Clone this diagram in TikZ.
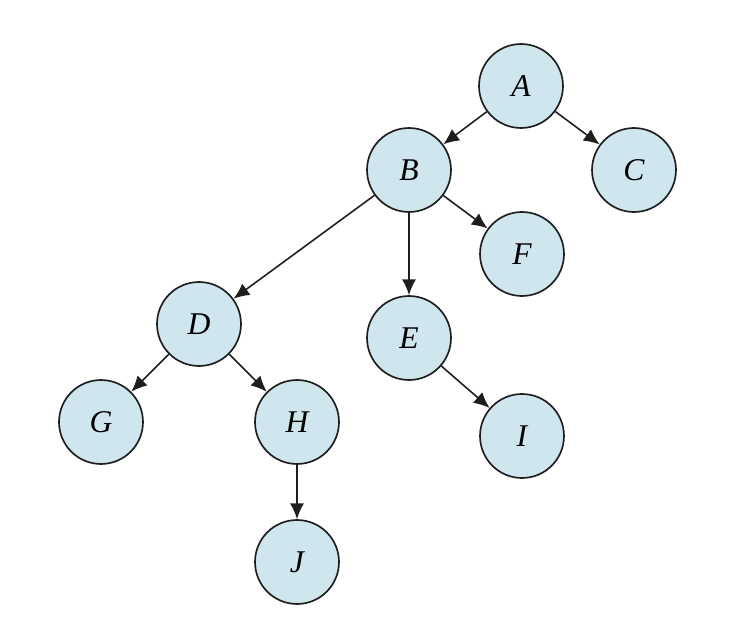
\documentclass[tikz,border=0pt]{standalone}
\usepackage{fontspec}
\setmainfont{Liberation Serif}
\usetikzlibrary{shapes,arrows,arrows.meta,fit,calc,positioning,backgrounds}

\definecolor{nodefill}{RGB}{208,230,239}
\definecolor{edgeblack}{RGB}{30,30,30}

\begin{document}
\begin{tikzpicture}[x=0.02cm,y=-0.02cm,
  treenode/.style={circle,draw=edgeblack,fill=nodefill,line width=0.95pt,
    minimum size=1.68cm,inner sep=0pt,font=\fontsize{18}{21}\selectfont\itshape},
  link/.style={draw=edgeblack,line width=0.9pt,-{Latex[length=9pt,width=8pt]}}]
  \useasboundingbox (0,0) rectangle (738,642);
  \node[treenode] (A) at (521,86) {A};
  \node[treenode] (B) at (409,170) {B};
  \node[treenode] (C) at (634,170) {C};
  \node[treenode] (F) at (522,254) {F};
  \node[treenode] (D) at (199,324) {D};
  \node[treenode] (E) at (409,338) {E};
  \node[treenode] (G) at (101,422) {G};
  \node[treenode] (H) at (297,422) {H};
  \node[treenode] (I) at (522,436) {I};
  \node[treenode] (J) at (297,562) {J};
  % edges
  \path[link] (A) -- (B);
  \path[link] (A) -- (C);
  \path[link] (B) -- (D);
  \path[link] (B) -- (E);
  \path[link] (B) -- (F);
  \path[link] (D) -- (G);
  \path[link] (D) -- (H);
  \path[link] (E) -- (I);
  \path[link] (H) -- (J);
\end{tikzpicture}
\end{document}
